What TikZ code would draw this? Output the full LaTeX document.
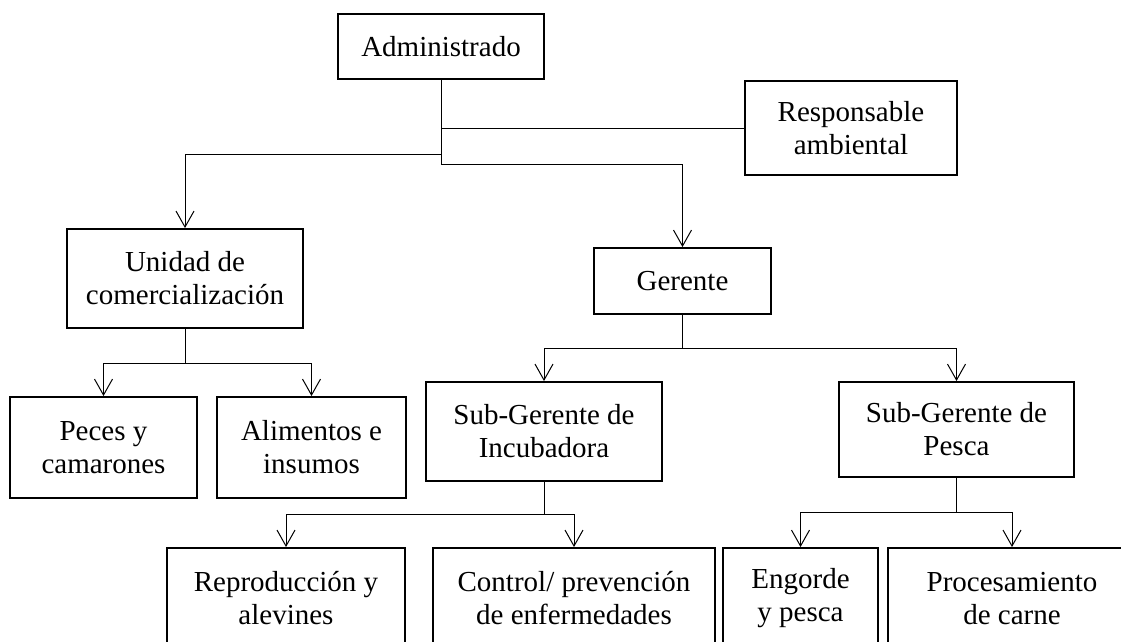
\documentclass[tikz,border=0pt]{standalone}
\usepackage{fontspec}
\setmainfont{Liberation Serif}
\usetikzlibrary{arrows.meta}

\tikzset{
  box/.style={draw, line width=1.4pt, align=center, inner sep=0pt,
    font=\fontsize{21.75}{24.75}\selectfont},
  sz/.style 2 args={minimum width=#1*0.75pt, minimum height=#2*0.75pt},
  arr/.style={-{Straight Barb[length=12pt,width=13.5pt]}},
}

\begin{document}
\begin{tikzpicture}[x=0.75pt, y=-0.75pt, line width=0.75pt]
  \path[use as bounding box, clip] (0,0) rectangle (1121,642);
  \node[box, sz={206}{65}] (admin) at (441,46.5) {Administrado};
  \node[box, sz={212}{94}] (resp) at (851,128) {Responsable\\ambiental};
  \node[box, sz={236}{99}] (unidad) at (185,278.5) {Unidad de\\comercialización};
  \node[box, sz={177}{66}] (gerente) at (682.5,281) {Gerente};
  \node[box, sz={187}{101}] (peces) at (103.5,447.5) {Peces y\\camarones};
  \node[box, sz={189}{101}] (alim) at (311.5,447.5) {Alimentos e\\insumos};
  \node[box, sz={236}{99}] (incub) at (544,431.5) {Sub-Gerente de\\Incubadora};
  \node[box, sz={235}{95}] (pesca) at (956.5,429.5) {Sub-Gerente de\\Pesca};
  \node[box, sz={238}{101}] (repro) at (286,598.5) {Reproducción y\\alevines};
  \node[box, sz={282}{101}] (control) at (574,598.5) {Control/ prevención\\de enfermedades};
  \node[box, sz={155}{101}] (engorde) at (800.5,598.5) {Engorde\\y pesca};
  \node[box, sz={248}{101}] (proces) at (1012,598.5) {Procesamiento\\de carne};
  \coordinate (a1) at (441,154);
  \coordinate (a2) at (441,164);
  \coordinate (u1) at (185,363);
  \coordinate (g1) at (682.5,348);
  \coordinate (i1) at (544,514);
  \coordinate (p1) at (956.5,512);
  \draw (admin.south) -- (a2);
  \draw (admin.south) |- (resp.west);
  \draw[arr] (a1) -| (unidad.north);
  \draw[arr] (a2) -| (gerente.north);
  \draw (unidad.south) -- (u1);
  \draw[arr] (u1) -| (peces.north);
  \draw[arr] (u1) -| (alim.north);
  \draw (gerente.south) -- (g1);
  \draw[arr] (g1) -| (incub.north);
  \draw[arr] (g1) -| (pesca.north);
  \draw (incub.south) -- (i1);
  \draw[arr] (i1) -| (repro.north);
  \draw[arr] (i1) -| (control.north);
  \draw (pesca.south) -- (p1);
  \draw[arr] (p1) -| (engorde.north);
  \draw[arr] (p1) -| (proces.north);
\end{tikzpicture}
\end{document}
